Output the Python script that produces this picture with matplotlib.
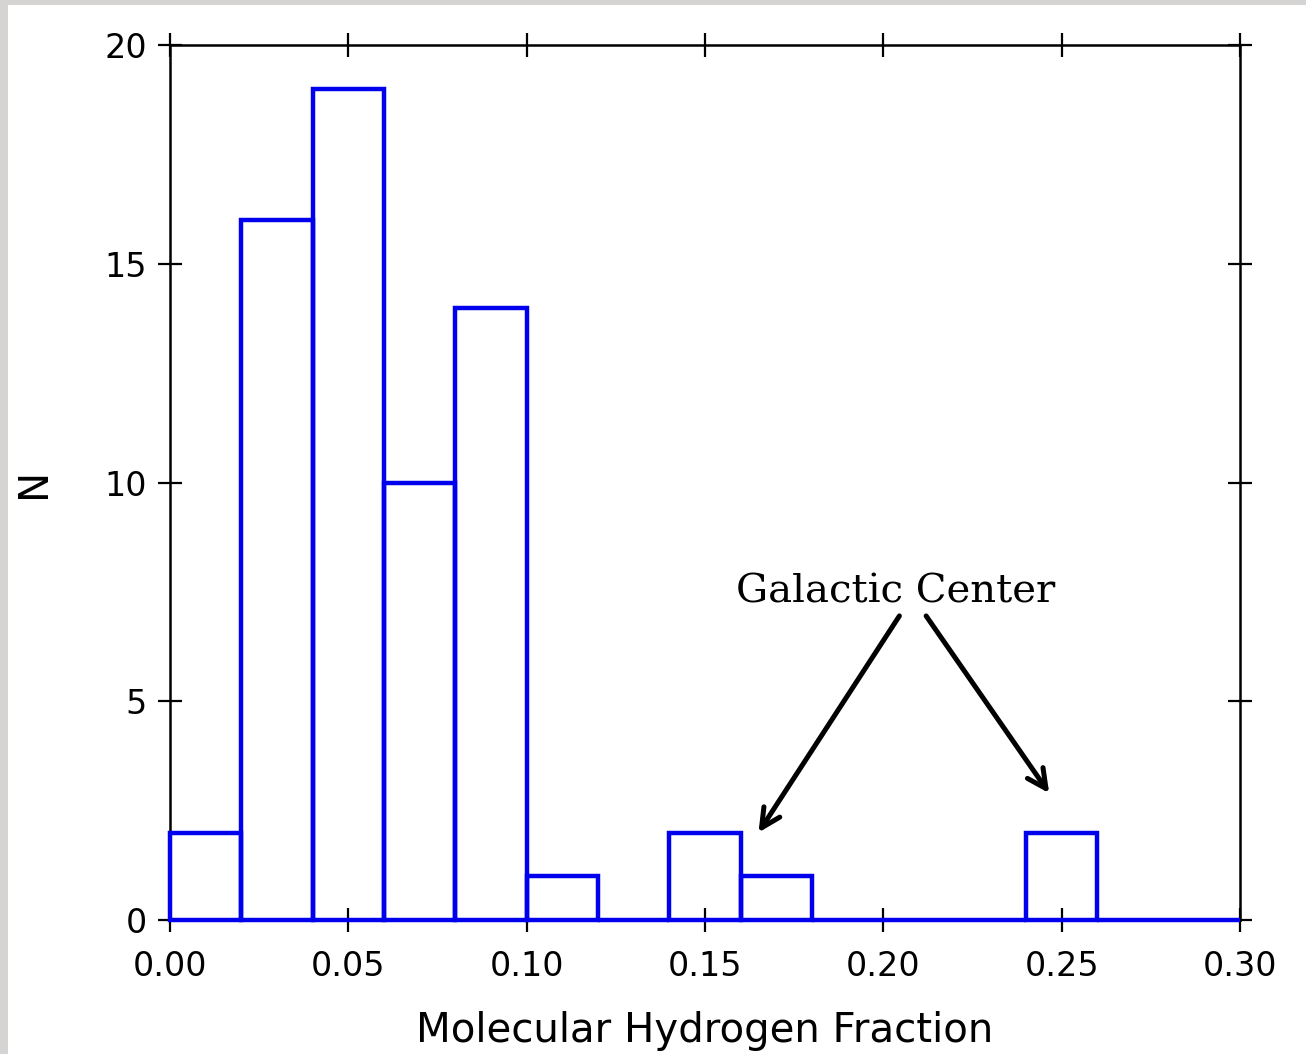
import matplotlib
matplotlib.use("Agg")
import matplotlib.pyplot as plt
from matplotlib.patches import Rectangle

# histogram data
bin_edges = [0.00, 0.02, 0.04, 0.06, 0.08, 0.10, 0.12, 0.14, 0.16, 0.18,
             0.20, 0.22, 0.24, 0.26, 0.28, 0.30]
counts = [2, 16, 19, 10, 14, 1, 0, 2, 1, 0, 0, 0, 2, 0, 0]

x_ticks = [0.00, 0.05, 0.10, 0.15, 0.20, 0.25, 0.30]
x_tick_labels = ["0.00", "0.05", "0.10", "0.15", "0.20", "0.25", "0.30"]
y_ticks = [0, 5, 10, 15, 20]

annot_text = "Galactic Center"
annot_targets = [(0.165, 2.0), (0.2465, 2.9)]

fig = plt.figure(figsize=(13.06, 10.54), dpi=100, facecolor="#d6d4d2")
# white page over grey border
fig.patches.append(Rectangle((8 / 1306, 0), 1, 1 - 5 / 1054, transform=fig.transFigure,
                             facecolor="white", edgecolor="none", zorder=-10))

ax = fig.add_axes([170 / 1306, 1 - 920 / 1054, 1070 / 1306, 875 / 1054])
ax.set_facecolor("white")

widths = [bin_edges[i + 1] - bin_edges[i] for i in range(len(counts))]
ax.bar(bin_edges[:-1], counts, width=widths, align="edge", fill=False,
       edgecolor="#0000ee", linewidth=3.2, clip_on=False, zorder=3)

ax.set_xlim(0, 0.30)
ax.set_ylim(0, 20)
ax.set_xticks(x_ticks)
ax.set_xticklabels(x_tick_labels)
ax.set_yticks(y_ticks)

for s in ax.spines.values():
    s.set_linewidth(1.8)
ax.tick_params(axis="both", which="major", direction="inout", length=17, width=1.6,
               top=True, right=True, labelsize=24, color="black")
ax.tick_params(axis="x", pad=13)
ax.tick_params(axis="y", pad=8)

ax.set_xlabel("Molecular Hydrogen Fraction", fontsize=29, labelpad=20)
ax.set_ylabel("N", fontsize=29, labelpad=36)

ax.text(0.2035, 7.08, annot_text, fontsize=29, family="DejaVu Serif",
        ha="center", va="bottom")
starts = [(0.2045, 6.95), (0.212, 6.95)]
for (sx, sy), (tx, ty) in zip(starts, annot_targets):
    ax.annotate("", xy=(tx, ty), xytext=(sx, sy),
                arrowprops=dict(arrowstyle="->", lw=3.6, color="black",
                                mutation_scale=34, shrinkA=0, shrinkB=0))

fig.savefig("out.png", dpi=100, facecolor=fig.get_facecolor())
